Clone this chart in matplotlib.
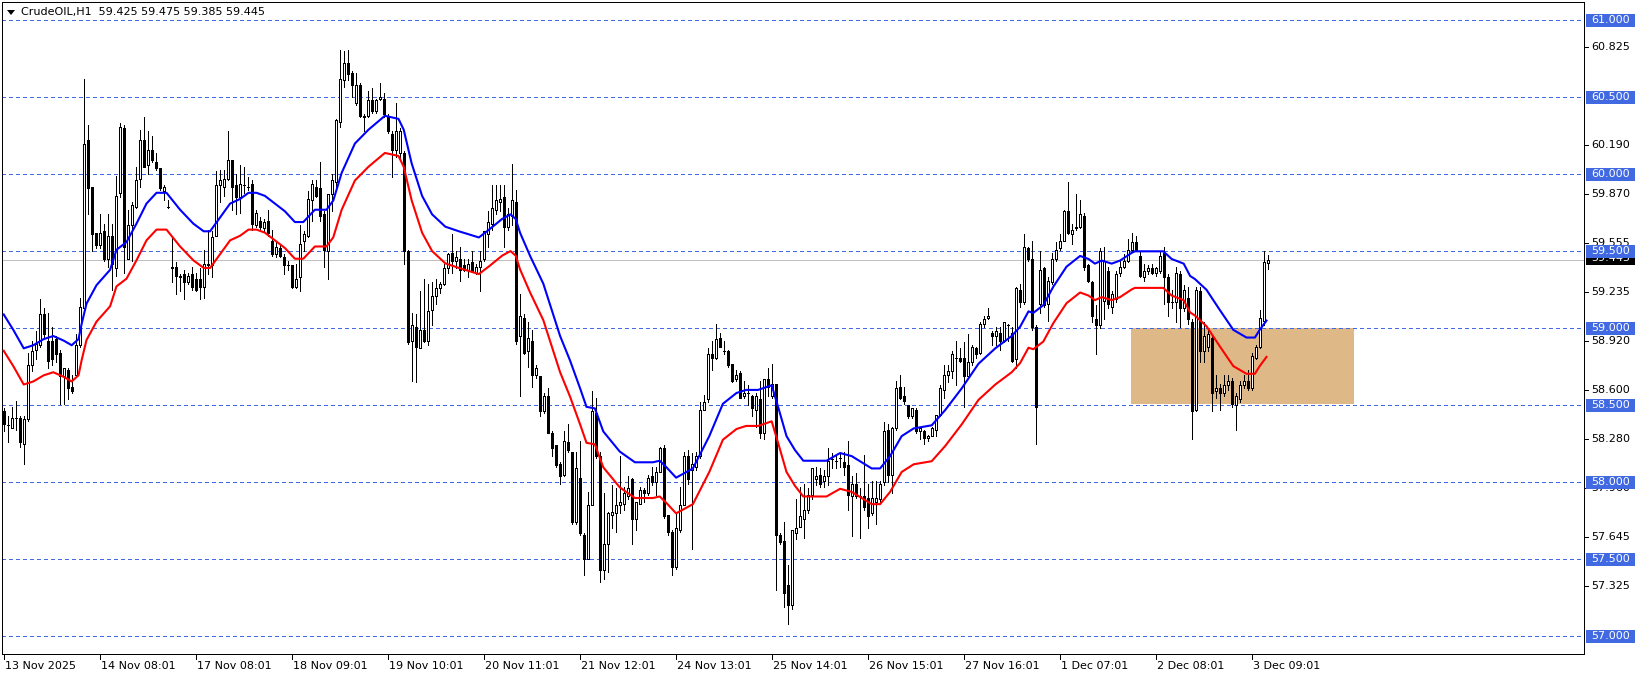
import matplotlib
matplotlib.use("Agg")
import matplotlib.pyplot as plt
from matplotlib.patches import Rectangle, Polygon
from matplotlib.transforms import blended_transform_factory

# hourly OHLC, bar 0 = 13 Nov 2025
opens = [
    58.46, 58.37, 58.35, 58.42, 58.42, 58.25, 58.41, 58.76, 58.86, 58.89,
    59.09, 58.92, 58.92, 58.93, 58.84, 58.69, 58.73, 58.62, 58.70, 58.89,
    59.13, 60.22, 59.92, 59.62, 59.54, 59.63, 59.45, 59.60, 59.39, 59.88,
    60.30, 59.45, 59.67, 59.79, 59.97, 60.22, 60.06, 60.16, 60.08, 60.04,
    59.89, 59.79, 59.39, 59.40, 59.33, 59.35, 59.30, 59.35, 59.32, 59.32,
    59.27, 59.41, 59.41, 59.60, 59.93, 59.92, 59.97, 60.09, 59.93, 59.85,
    59.93, 59.92, 59.94, 59.67, 59.70, 59.65, 59.70, 59.57, 59.48, 59.52,
    59.46, 59.41, 59.41, 59.27, 59.33, 59.57, 59.60, 59.83, 59.92, 59.91,
    59.74, 59.50, 59.87, 59.95, 60.34, 60.61, 60.72, 60.66, 60.46, 60.58,
    60.38, 60.38, 60.48, 60.41, 60.49, 60.49, 60.37, 60.26, 60.16, 60.14,
    60.14, 59.50, 58.92, 59.01, 58.87, 58.99, 58.92, 59.12, 59.21, 59.26,
    59.29, 59.39, 59.49, 59.44, 59.45, 59.41, 59.38, 59.43, 59.36, 59.40,
    59.45, 59.61, 59.68, 59.77, 59.82, 59.85, 59.66, 59.73, 59.82, 58.95,
    59.07, 58.85, 58.92, 58.70, 58.69, 58.46, 58.56, 58.32, 58.24, 58.12,
    58.05, 58.26, 58.20, 57.74, 58.03, 57.66, 57.50, 57.85, 58.45, 58.17,
    57.43, 57.60, 57.79, 57.80, 57.85, 57.86, 57.91, 58.02, 57.76, 57.86,
    57.95, 57.93, 58.04, 58.00, 58.07, 58.22, 57.79, 57.68, 57.45, 57.69,
    57.85, 58.17, 58.08, 58.10, 58.17, 58.47, 58.54, 58.83, 58.81, 58.94,
    58.85, 58.85, 58.77, 58.67, 58.71, 58.56, 58.58, 58.56, 58.47, 58.54,
    58.32, 58.67, 58.56, 58.64, 57.66, 57.62, 57.33, 57.20, 57.67, 57.71,
    57.76, 57.82, 57.92, 58.02, 58.05, 58.01, 58.04, 58.15, 58.14, 58.16,
    58.13, 58.11, 57.91, 57.99, 57.91, 57.91, 57.90, 57.80, 57.87, 57.89,
    58.00, 58.34, 58.05, 58.35, 58.62, 58.56, 58.50, 58.43, 58.47, 58.33,
    58.33, 58.29, 58.30, 58.34, 58.44, 58.60, 58.70, 58.72, 58.81, 58.81,
    58.81, 58.69, 58.78, 58.87, 58.84, 59.03, 59.07, 58.97, 58.95, 58.97,
    58.92, 59.02, 58.97, 58.80, 59.25, 59.17, 59.52, 59.45, 59.01, 59.16,
    59.39, 59.16, 59.30, 59.45, 59.52, 59.57, 59.76, 59.61, 59.65, 59.66,
    59.73, 59.41, 59.30, 59.06, 59.02, 59.18, 59.37, 59.14, 59.19, 59.36,
    59.40, 59.44, 59.51, 59.56, 59.47, 59.33, 59.37, 59.39, 59.36, 59.37,
    59.49, 59.33, 59.17, 59.17, 59.35, 59.13, 59.20, 59.04, 58.47, 59.24,
    58.85, 58.88, 58.94, 58.59, 58.61, 58.58, 58.63, 58.66, 58.50, 58.54,
    58.63, 58.66, 58.61, 58.81, 58.88, 59.05, 59.425,
]
highs = [
    58.48, 58.43, 58.49, 58.53, 58.43, 58.43, 58.84, 58.92, 58.98, 59.19,
    59.13, 59.10, 59.01, 58.95, 58.86, 58.74, 58.74, 58.70, 58.96, 59.20,
    60.62, 60.32, 59.92, 59.62, 59.74, 59.68, 59.74, 59.68, 59.99, 60.33,
    60.32, 59.77, 59.82, 60.05, 60.29, 60.37, 60.28, 60.25, 60.14, 60.04,
    59.93, 59.83, 59.59, 59.43, 59.35, 59.38, 59.36, 59.40, 59.36, 59.39,
    59.51, 59.64, 59.63, 60.02, 60.03, 60.03, 60.28, 60.09, 60.00, 60.06,
    60.05, 59.98, 59.96, 59.77, 59.72, 59.71, 59.77, 59.64, 59.57, 59.55,
    59.48, 59.44, 59.41, 59.42, 59.67, 59.63, 59.89, 59.96, 59.96, 60.08,
    59.76, 59.87, 60.00, 60.36, 60.81, 60.80, 60.81, 60.67, 60.66, 60.59,
    60.39, 60.54, 60.56, 60.49, 60.59, 60.53, 60.39, 60.28, 60.46, 60.30,
    60.15, 59.51, 59.10, 59.09, 59.24, 59.32, 59.29, 59.30, 59.32, 59.30,
    59.42, 59.49, 59.61, 59.50, 59.53, 59.45, 59.45, 59.50, 59.42, 59.50,
    59.63, 59.76, 59.93, 59.93, 59.93, 59.93, 59.78, 60.07, 59.90, 59.22,
    59.09, 59.04, 58.99, 58.76, 58.69, 58.58, 58.61, 58.33, 58.24, 58.13,
    58.33, 58.38, 58.20, 58.20, 58.27, 57.67, 57.94, 58.59, 58.55, 58.20,
    57.93, 57.81, 57.98, 57.96, 58.17, 57.97, 58.04, 58.03, 57.87, 57.97,
    57.96, 58.05, 58.10, 58.10, 58.23, 58.24, 57.79, 57.69, 57.80, 57.97,
    58.20, 58.21, 58.19, 58.20, 58.52, 58.57, 58.87, 58.92, 59.03, 58.97,
    58.92, 58.86, 58.77, 58.73, 58.72, 58.66, 58.63, 58.57, 58.58, 58.66,
    58.67, 58.74, 58.77, 58.64, 57.67, 57.74, 57.46, 57.69, 57.89, 57.97,
    57.99, 57.96, 58.09, 58.10, 58.09, 58.08, 58.22, 58.19, 58.18, 58.19,
    58.20, 58.27, 58.04, 58.06, 57.96, 58.18, 57.99, 58.01, 58.01, 58.01,
    58.39, 58.38, 58.36, 58.66, 58.70, 58.62, 58.50, 58.48, 58.48, 58.36,
    58.34, 58.31, 58.36, 58.44, 58.63, 58.76, 58.76, 58.85, 58.92, 58.87,
    58.91, 58.96, 58.89, 58.88, 59.04, 59.08, 59.13, 58.98, 59.01, 59.01,
    59.04, 59.03, 59.01, 59.27, 59.29, 59.61, 59.53, 59.57, 59.02, 59.50,
    59.40, 59.33, 59.49, 59.56, 59.61, 59.77, 59.95, 59.68, 59.87, 59.83,
    59.75, 59.42, 59.31, 59.15, 59.52, 59.53, 59.40, 59.24, 59.37, 59.44,
    59.48, 59.58, 59.62, 59.60, 59.50, 59.42, 59.41, 59.42, 59.40, 59.50,
    59.53, 59.35, 59.25, 59.40, 59.37, 59.28, 59.27, 59.06, 59.27, 59.27,
    59.04, 59.00, 58.96, 58.70, 58.64, 58.70, 58.70, 58.68, 58.58, 58.66,
    58.70, 58.73, 58.84, 58.89, 59.12, 59.50, 59.475,
]
lows = [
    58.33, 58.26, 58.35, 58.34, 58.23, 58.12, 58.40, 58.72, 58.80, 58.88,
    58.94, 58.74, 58.76, 58.78, 58.51, 58.51, 58.54, 58.58, 58.69, 58.88,
    59.13, 59.74, 59.50, 59.52, 59.52, 59.44, 59.40, 59.25, 59.34, 59.85,
    59.36, 59.45, 59.44, 59.78, 59.92, 60.05, 60.00, 60.08, 60.03, 59.90,
    59.83, 59.78, 59.30, 59.22, 59.24, 59.19, 59.29, 59.25, 59.24, 59.19,
    59.20, 59.35, 59.33, 59.60, 59.82, 59.86, 59.96, 59.77, 59.74, 59.75,
    59.88, 59.90, 59.64, 59.66, 59.63, 59.63, 59.60, 59.47, 59.46, 59.46,
    59.35, 59.38, 59.26, 59.26, 59.24, 59.50, 59.59, 59.70, 59.85, 59.70,
    59.40, 59.32, 59.76, 59.92, 60.31, 60.57, 60.61, 60.50, 60.45, 60.37,
    60.28, 60.37, 60.40, 60.40, 60.48, 60.37, 60.27, 59.98, 60.11, 60.09,
    59.42, 58.90, 58.66, 58.65, 58.87, 58.91, 58.89, 59.02, 59.16, 59.23,
    59.28, 59.36, 59.36, 59.39, 59.31, 59.37, 59.33, 59.37, 59.35, 59.24,
    59.44, 59.53, 59.64, 59.74, 59.76, 59.53, 59.64, 59.67, 58.90, 58.56,
    58.83, 58.75, 58.62, 58.68, 58.43, 58.45, 58.32, 58.17, 58.10, 57.99,
    58.04, 58.20, 57.73, 57.73, 57.66, 57.40, 57.50, 57.85, 58.16, 57.35,
    57.37, 57.42, 57.70, 57.68, 57.80, 57.82, 57.89, 57.60, 57.69, 57.86,
    57.87, 57.92, 57.98, 57.92, 58.07, 57.77, 57.66, 57.40, 57.44, 57.68,
    57.85, 57.99, 57.57, 58.08, 58.16, 58.47, 58.52, 58.73, 58.80, 58.88,
    58.83, 58.75, 58.65, 58.66, 58.55, 58.55, 58.50, 58.43, 58.36, 58.29,
    58.28, 58.56, 58.55, 57.30, 57.60, 57.19, 57.08, 57.18, 57.63, 57.71,
    57.64, 57.80, 57.89, 57.98, 57.97, 57.97, 57.98, 58.09, 58.09, 58.10,
    58.05, 57.82, 57.65, 57.90, 57.64, 57.82, 57.70, 57.79, 57.73, 57.86,
    57.98, 58.00, 57.93, 58.34, 58.54, 58.51, 58.42, 58.42, 58.32, 58.28,
    58.25, 58.27, 58.30, 58.30, 58.43, 58.55, 58.65, 58.68, 58.63, 58.78,
    58.49, 58.69, 58.76, 58.81, 58.83, 59.01, 59.06, 58.89, 58.89, 58.86,
    58.91, 58.92, 58.78, 58.74, 59.14, 59.16, 59.44, 58.99, 58.25, 59.10,
    59.14, 59.05, 59.29, 59.44, 59.51, 59.57, 59.61, 59.55, 59.64, 59.65,
    59.38, 59.30, 59.04, 58.83, 59.00, 59.06, 59.13, 59.10, 59.17, 59.34,
    59.39, 59.43, 59.50, 59.50, 59.33, 59.31, 59.35, 59.35, 59.34, 59.36,
    59.16, 59.08, 59.13, 59.04, 59.01, 59.11, 59.03, 58.28, 58.46, 58.78,
    58.78, 58.85, 58.46, 58.55, 58.47, 58.56, 58.60, 58.49, 58.34, 58.52,
    58.61, 58.60, 58.60, 58.80, 58.87, 59.02, 59.385,
]
closes = [
    58.38, 58.37, 58.42, 58.42, 58.26, 58.41, 58.76, 58.85, 58.90, 59.09,
    58.96, 58.79, 58.80, 58.83, 58.69, 58.74, 58.61, 58.59, 58.89, 59.14,
    60.20, 59.91, 59.61, 59.54, 59.62, 59.45, 59.60, 59.42, 59.86, 60.31,
    59.53, 59.67, 59.80, 59.96, 60.22, 60.05, 60.16, 60.09, 60.04, 59.91,
    59.92, 59.79, 59.40, 59.34, 59.34, 59.30, 59.34, 59.27, 59.25, 59.27,
    59.42, 59.42, 59.59, 59.93, 59.96, 59.97, 60.09, 59.92, 59.85, 59.94,
    59.93, 59.92, 59.68, 59.75, 59.66, 59.69, 59.62, 59.48, 59.53, 59.47,
    59.41, 59.41, 59.27, 59.32, 59.55, 59.61, 59.84, 59.94, 59.86, 59.73,
    59.51, 59.87, 59.96, 60.35, 60.62, 60.72, 60.65, 60.58, 60.58, 60.38,
    60.37, 60.48, 60.41, 60.48, 60.50, 60.39, 60.28, 60.16, 60.28, 60.28,
    59.50, 58.91, 59.02, 58.88, 58.99, 58.92, 59.11, 59.21, 59.26, 59.29,
    59.39, 59.48, 59.44, 59.46, 59.38, 59.38, 59.42, 59.37, 59.40, 59.44,
    59.63, 59.69, 59.78, 59.83, 59.84, 59.66, 59.74, 59.83, 58.92, 59.08,
    58.84, 58.94, 58.70, 58.74, 58.46, 58.56, 58.32, 58.22, 58.11, 58.04,
    58.27, 58.21, 57.74, 58.09, 57.67, 57.50, 57.85, 58.46, 58.17, 57.43,
    57.60, 57.80, 57.81, 57.85, 57.87, 57.93, 57.96, 57.76, 57.87, 57.95,
    57.93, 58.03, 58.00, 58.07, 58.22, 57.78, 57.68, 57.45, 57.70, 57.85,
    58.17, 58.02, 58.12, 58.17, 58.47, 58.52, 58.83, 58.81, 58.93, 58.88,
    58.85, 58.76, 58.66, 58.70, 58.55, 58.58, 58.58, 58.48, 58.56, 58.32,
    58.67, 58.62, 58.64, 57.66, 57.61, 57.28, 57.20, 57.69, 57.70, 57.78,
    57.82, 57.92, 58.09, 58.04, 57.99, 58.04, 58.14, 58.15, 58.14, 58.16,
    58.10, 57.92, 57.99, 57.91, 57.91, 57.84, 57.78, 57.90, 57.90, 57.99,
    58.33, 58.05, 58.35, 58.61, 58.55, 58.53, 58.43, 58.48, 58.33, 58.35,
    58.29, 58.30, 58.35, 58.44, 58.61, 58.70, 58.72, 58.83, 58.81, 58.79,
    58.69, 58.78, 58.88, 58.83, 59.03, 59.06, 59.08, 58.95, 58.98, 58.92,
    59.04, 59.02, 58.79, 59.26, 59.17, 59.53, 59.45, 59.01, 58.49, 59.38,
    59.15, 59.31, 59.45, 59.51, 59.57, 59.76, 59.62, 59.64, 59.66, 59.74,
    59.40, 59.31, 59.08, 59.02, 59.50, 59.44, 59.16, 59.22, 59.35, 59.40,
    59.44, 59.51, 59.56, 59.51, 59.34, 59.37, 59.39, 59.36, 59.39, 59.47,
    59.33, 59.17, 59.17, 59.36, 59.13, 59.25, 59.06, 58.46, 59.25, 58.85,
    58.95, 58.96, 58.58, 58.61, 58.58, 58.63, 58.66, 58.51, 58.56, 58.63,
    58.66, 58.61, 58.82, 58.88, 59.07, 59.43, 59.445,
]

# upper envelope line (blue), read at bar positions; lower band is the same MA -0.2%
env_bars = [
    0, 2.4, 5, 7.4, 10, 12.4, 15, 17, 18.7, 19.5, 20.7, 23.2, 26.6, 28.2, 30.7,
    33.2, 35.7, 38.2, 40.7, 44.1, 47.4, 50, 51.6, 54.1, 56.6, 59.1, 61.2, 63.2,
    65.3, 67.8, 70.3, 72.8, 74.9, 77.8, 80.7, 82.4, 84.5, 87.8, 91.2, 95.3,
    98.7, 100, 102, 104.6, 107.1, 110.4, 113.8, 118.8, 121.3, 124.6, 126.7,
    128, 129.1, 131.6, 134.9, 139.1, 141.6, 144.1, 145.7, 147.8, 149.9, 154,
    157.8, 162.3, 164, 165.6, 168.1, 172.3, 176.4, 179.8, 183.2, 185.6, 188.6,
    192, 193.6, 195.7, 197.8, 199.9, 205.7, 209.1, 212, 217, 219.1, 221.6,
    224.5, 227.5, 232, 235.4, 239.5, 243.7, 247.9, 252, 254.1, 256.2, 257.4,
    259.9, 262.4, 265.7, 269.1, 271.2, 272.8, 274.5, 277, 279.1, 282, 282.8,
    289.9, 292, 295, 296.6, 297.8, 300.7, 304, 307.4, 310.7, 312.8, 314, 315.7,
]
env_upper = [
    59.09, 58.99, 58.87, 58.89, 58.93, 58.95, 58.92, 58.89, 58.93, 59.03, 59.16,
    59.28, 59.38, 59.51, 59.56, 59.68, 59.81, 59.88, 59.88, 59.77, 59.68, 59.63,
    59.63, 59.72, 59.81, 59.84, 59.88, 59.88, 59.86, 59.81, 59.76, 59.69, 59.69,
    59.77, 59.77, 59.83, 60.01, 60.20, 60.29, 60.38, 60.36, 60.29, 60.07, 59.86,
    59.74, 59.66, 59.63, 59.59, 59.64, 59.71, 59.74, 59.71, 59.62, 59.47, 59.29,
    58.95, 58.79, 58.61, 58.49, 58.48, 58.33, 58.20, 58.13, 58.13, 58.14, 58.10,
    58.03, 58.09, 58.30, 58.51, 58.58, 58.60, 58.60, 58.63, 58.49, 58.30, 58.21,
    58.14, 58.14, 58.19, 58.17, 58.09, 58.09, 58.17, 58.30, 58.35, 58.37, 58.47,
    58.61, 58.77, 58.87, 58.95, 59.01, 59.11, 59.10, 59.15, 59.27, 59.40, 59.47,
    59.45, 59.42, 59.44, 59.42, 59.44, 59.49, 59.50, 59.50, 59.45, 59.42, 59.34,
    59.32, 59.25, 59.12, 58.99, 58.94, 58.94, 58.99, 59.05,
]
env_lower = [v * 0.998 / 1.002 for v in env_upper]

level_prices = [61.0, 60.5, 60.0, 59.5, 59.0, 58.5, 58.0, 57.5, 57.0]
scale_prices = [60.825, 60.190, 59.870, 59.555, 59.235, 58.920, 58.600,
                58.280, 57.960, 57.645, 57.325]
time_labels = ["13 Nov 2025", "14 Nov 08:01", "17 Nov 08:01", "18 Nov 09:01",
               "19 Nov 10:01", "20 Nov 11:01", "21 Nov 12:01", "24 Nov 13:01",
               "25 Nov 14:01", "26 Nov 15:01", "27 Nov 16:01", "1 Dec 07:01",
               "2 Dec 08:01", "3 Dec 09:01"]
bars_per_label = 24
bid = 59.445
zone_bars = (281.8, 337.6)
zone_prices = (58.51, 59.0)

LEVEL_BLUE = "#4169E1"
W, H = 1641, 678
PX = 0.72  # one pixel in points

fig = plt.figure(figsize=(W / 100, H / 100), dpi=100)
ax = fig.add_axes([2 / W, (H - 654) / H, 1582 / W, 652 / H])
ax.set_xlim(-0.425, 395.075)
ax.set_ylim(56.885, 61.119)
ax.set_xticks([])
ax.set_yticks([])
for s in ax.spines.values():
    s.set_linewidth(PX)
    s.set_color("black")

# zone
ax.add_patch(Rectangle((zone_bars[0], zone_prices[0]), zone_bars[1] - zone_bars[0],
                       zone_prices[1] - zone_prices[0], facecolor="#DEB887",
                       edgecolor="none", zorder=1))

# levels and bid line
for p in level_prices:
    ax.axhline(p, color=LEVEL_BLUE, lw=PX, dashes=(4, 3), zorder=1.5,
               antialiased=False)
ax.axhline(bid, color="#C0C0C0", lw=PX, zorder=1.4, antialiased=False)

# candles
xs = list(range(len(closes)))
ax.vlines(xs, lows, highs, color="black", lw=PX, zorder=2, antialiased=False)
bottoms = [min(o, c) for o, c in zip(opens, closes)]
heights = [abs(c - o) for o, c in zip(opens, closes)]
fills = ["white" if c >= o else "black" for o, c in zip(opens, closes)]
ax.bar(xs, heights, bottom=bottoms, width=0.5, color=fills,
       edgecolor="black", linewidth=PX, zorder=3, antialiased=False)

# envelope
ax.plot(env_bars, env_upper, color="#0000FF", lw=1.5, zorder=4,
        solid_joinstyle="round")
ax.plot(env_bars, env_lower, color="#FF0000", lw=1.5, zorder=4,
        solid_joinstyle="round")

# right price scale
tr = blended_transform_factory(ax.transAxes, ax.transData)
ax_w = 1582.0
box_x0 = (1586 - 2) / ax_w
box_w = 49 / ax_w
box_h = 13 / 154.0
txt_x = (1591 - 2) / ax_w
for p in scale_prices:
    ax.plot([1, 1 + 4 / ax_w], [p, p], transform=tr, clip_on=False,
            color="black", lw=PX)
    ax.text(txt_x, p, f"{p:.3f}", transform=tr, fontsize=8, va="center",
            ha="left", color="black", zorder=5, clip_on=False)

ax.add_patch(Rectangle((box_x0, bid - box_h / 2 + 0.01), box_w, box_h,
                       transform=tr, clip_on=False, facecolor="black",
                       edgecolor="none", zorder=6))
ax.text(txt_x, bid + 0.01, f"{bid:.3f}", transform=tr, fontsize=8, va="center",
        ha="left", color="white", zorder=7, clip_on=False)

for p in level_prices:
    ax.add_patch(Rectangle((box_x0, p - box_h / 2), box_w, box_h, transform=tr,
                           clip_on=False, facecolor=LEVEL_BLUE,
                           edgecolor="none", zorder=8))
    ax.text(txt_x, p, f"{p:.3f}", transform=tr, fontsize=8, va="center",
            ha="left", color="white", zorder=9, clip_on=False)

# time scale
trx = blended_transform_factory(ax.transData, ax.transAxes)
for k, lab in enumerate(time_labels):
    xb = k * bars_per_label
    ax.plot([xb, xb], [0, -5 / 652], transform=trx, clip_on=False,
            color="black", lw=PX)
    ax.text(xb + 0.25, -12 / 652, lab, transform=trx, fontsize=8,
            va="center", ha="left", clip_on=False)

# header
fig.patches.append(Polygon([(7 / W, 1 - 10 / H), (15 / W, 1 - 10 / H),
                            (11 / W, 1 - 15 / H)], closed=True,
                           transform=fig.transFigure, facecolor="black",
                           edgecolor="none"))
fig.text(21 / W, 1 - 12.5 / H, "CrudeOIL,H1  59.425 59.475 59.385 59.445",
         fontsize=8, va="center", ha="left")

fig.savefig("out.png", dpi=100)
